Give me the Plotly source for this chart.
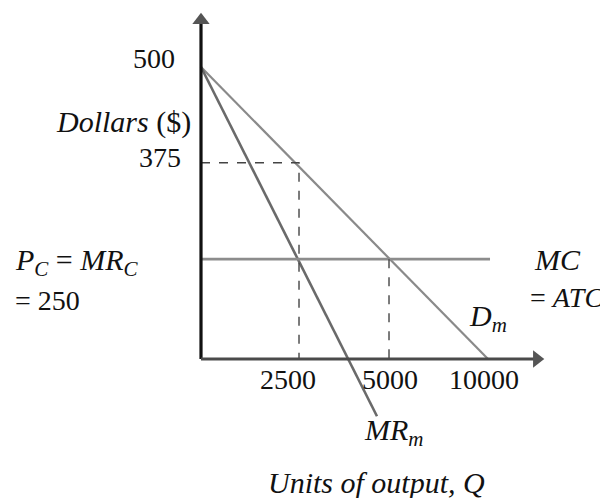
import plotly.graph_objects as go

# Schematic diagram units (the sketch is not drawn to scale)
q_labels = ["2500", "5000", "10000"]
q_pos = [3415, 6551, 10000]          # where the sketch places each quantity
p_labels = ["500", "375"]
p_pos = [500, 336]                   # where the sketch places each price
pc_level = 171                       # P_C = MR_C = 250 level in the sketch

demand_q = [0, 10000]
demand_p = [500, 0]
mr_q = [0, 6132]
mr_p = [500, -98]
mc_q = [0, 10070]
mc_p = [pc_level, pc_level]

y_axis_top = 580
x_axis_end = 11700

FONT = "Liberation Serif"
fig = go.Figure()

# demand and marginal curves
fig.add_trace(go.Scatter(x=demand_q, y=demand_p, mode="lines",
                         line=dict(color="#8a8a8a", width=2.2), hoverinfo="skip"))
fig.add_trace(go.Scatter(x=mr_q, y=mr_p, mode="lines",
                         line=dict(color="#6a6a6a", width=2.6), hoverinfo="skip"))
fig.add_trace(go.Scatter(x=mc_q, y=mc_p, mode="lines",
                         line=dict(color="#8c8c8c", width=2.6), hoverinfo="skip"))

# dashed guide lines
fig.add_trace(go.Scatter(x=[0, q_pos[0], q_pos[0]], y=[p_pos[1], p_pos[1], 0], mode="lines",
                         line=dict(color="#444444", width=1.4, dash="dash"), hoverinfo="skip"))
fig.add_trace(go.Scatter(x=[q_pos[1], q_pos[1]], y=[pc_level, 0], mode="lines",
                         line=dict(color="#444444", width=1.4, dash="dash"), hoverinfo="skip"))

# axes with arrows
fig.add_trace(go.Scatter(x=[0, 0], y=[0, y_axis_top], mode="lines",
                         line=dict(color="#111111", width=3.2), hoverinfo="skip"))
fig.add_trace(go.Scatter(x=[0, x_axis_end], y=[0, 0], mode="lines",
                         line=dict(color="#4a4a4a", width=3.2), hoverinfo="skip"))
fig.add_trace(go.Scatter(x=[0], y=[y_axis_top], mode="markers",
                         marker=dict(symbol="triangle-up", size=15, color="#555555"), hoverinfo="skip"))
fig.add_trace(go.Scatter(x=[x_axis_end], y=[0], mode="markers",
                         marker=dict(symbol="triangle-right", size=15, color="#555555"), hoverinfo="skip"))

num_font = dict(family=FONT, size=28, color="#111111")
it_font = dict(family=FONT, size=30, color="#111111")

# price labels
fig.add_annotation(x=0, y=p_pos[0], text=p_labels[0], showarrow=False, xanchor="right",
                   xshift=-24, yshift=8, font=num_font)
fig.add_annotation(x=0, y=p_pos[1], text=p_labels[1], showarrow=False, xanchor="right",
                   xshift=-18, yshift=5, font=num_font)
fig.add_annotation(x=0, y=406, text="<i>Dollars</i> (&#36;)", showarrow=False, xanchor="right",
                   xshift=-8, font=it_font)

# quantity labels
for lab, pos, sh in zip(q_labels, q_pos, [-11, 1, -4]):
    fig.add_annotation(x=pos, y=0, text=lab, showarrow=False, xshift=sh, yshift=-20,
                       font=num_font)

# curve labels
fig.add_annotation(x=-6551, y=pc_level, text="<i>P<sub>C</sub></i> = <i>MR<sub>C</sub></i>",
                   showarrow=False, xanchor="left", yshift=-3, font=it_font)
fig.add_annotation(x=-6551, y=pc_level, text="= 250", showarrow=False, xanchor="left",
                   yshift=-41, font=num_font)
fig.add_annotation(x=11533, y=pc_level, text="<i>MC</i>", showarrow=False, xanchor="left",
                   yshift=0, font=it_font)
fig.add_annotation(x=11400, y=pc_level, text="= <i>ATC</i>", showarrow=False, xanchor="left",
                   yshift=-38, font=dict(family=FONT, size=28, color="#111111"))
fig.add_annotation(x=9268, y=70, text="<i>D<sub>m</sub></i>", showarrow=False, xanchor="left",
                   font=it_font)
fig.add_annotation(x=5610, y=-125, text="<i>MR<sub>m</sub></i>", showarrow=False, xanchor="left",
                   font=it_font)
fig.add_annotation(x=6098, y=-212, text="<i>Units of output, Q</i>", showarrow=False,
                   font=it_font)

fig.update_layout(
    width=608, height=498, autosize=False,
    margin=dict(l=0, r=0, t=0, b=0),
    paper_bgcolor="white", plot_bgcolor="white",
    showlegend=False,
    xaxis=dict(range=[-6724.7, 14460], visible=False, fixedrange=True),
    yaxis=dict(range=[-251.7, 601.0], visible=False, fixedrange=True),
)

fig.write_html("out.html")
